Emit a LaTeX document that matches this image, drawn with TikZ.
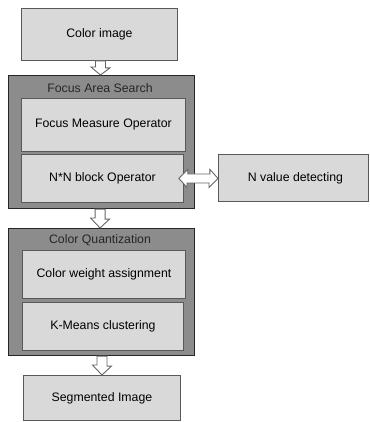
\documentclass[tikz,border=0pt]{standalone}
\usepackage{fontspec}
\setmainfont{Liberation Sans}
\usetikzlibrary{calc}
\begin{document}
\begin{tikzpicture}[x=1pt,y=1pt,
  lightbox/.style={draw=black!65,line width=0.9pt,fill=black!15,inner sep=0pt,anchor=north west},
  outerbox/.style={draw=black!85,line width=1.1pt,fill=black!45,inner sep=0pt,anchor=north west},
  label/.style={font=\fontsize{12.3}{14}\selectfont,text=black},
  titletext/.style={font=\fontsize{12.3}{14}\selectfont,text=black!85},
  blockarrow/.style={draw=black!60,line width=0.9pt,fill=white,line join=miter}]
\useasboundingbox (0,0) rectangle (369,-422);
% top box
\node[lightbox,minimum width=156,minimum height=52] (top) at (21,-8) {};
\node[label] (toplbl) at (top.center) {Color image};
% Focus Area Search
\node[outerbox,minimum width=186,minimum height=133] (fas) at (8,-75) {};
\node[titletext] (fastitle) at (100,-88) {Focus Area Search};
\node[lightbox,minimum width=164,minimum height=53] (fmo) at (21,-98) {};
\node[label] (fmolbl) at (fmo.center) {Focus Measure Operator};
\node[lightbox,minimum width=162,minimum height=48] (nn) at (21,-154) {};
\node[label] (nnlbl) at (nn.center) {N*N block Operator};
% N value
\node[lightbox,minimum width=150,minimum height=47] (nv) at (218,-154) {};
\node[label] (nvlbl) at ($(nv.center)+(2,0)$) {N value detecting};
% Color Quantization
\node[outerbox,minimum width=186,minimum height=127] (cq) at (8,-228) {};
\node[titletext] (cqtitle) at (100,-240) {Color Quantization};
\node[lightbox,minimum width=163,minimum height=48] (cwa) at (22,-250) {};
\node[label] (cwalbl) at (cwa.center) {Color weight assignment};
\node[lightbox,minimum width=161,minimum height=48] (km) at (22,-302) {};
\node[label] (kmlbl) at (km.center) {K-Means clustering};
% Segmented
\node[lightbox,minimum width=157,minimum height=45] (seg) at (23,-375) {};
\node[label] (seglbl) at (seg.center) {Segmented Image};
% arrows, anchored on the boxes they join
\coordinate (a1s) at ($(top.south)+(1,0)$);
\coordinate (a1e) at (a1s |- fas.north);
\draw[blockarrow] ($(a1s)+(-5,0)$) -- ++(10,0) -- ++(0,-7) -- ++(4.5,0) -- (a1e) -- ++(-9.5,8) -- ++(4.5,0) -- cycle;
\coordinate (a2s) at ($(fas.south)+(-1.5,0)$);
\coordinate (a2e) at (a2s |- cq.north);
\draw[blockarrow] ($(a2s)+(-5,0)$) -- ++(10,0) -- ++(0,-10) -- ++(4.5,0) -- (a2e) -- ++(-9.5,10) -- ++(4.5,0) -- cycle;
\coordinate (a3s) at (seg.north |- cq.south);
\coordinate (a3e) at (seg.north);
\draw[blockarrow] ($(a3s)+(-5,0)$) -- ++(10,0) -- ++(0,-10) -- ++(4.5,0) -- (a3e) -- ++(-9.5,10) -- ++(4.5,0) -- cycle;
\coordinate (dl) at ($(nn.east)+(-5,0)$);
\coordinate (dr) at (nv.west |- dl);
\draw[blockarrow] (dl) -- ++(9,9) -- ++(0,-4.5) -- ++(22,0) -- ++(0,4.5) -- (dr) -- ++(-9,-9) -- ++(0,4.5) -- ++(-22,0) -- ++(0,-4.5) -- cycle;
\end{tikzpicture}
\end{document}
